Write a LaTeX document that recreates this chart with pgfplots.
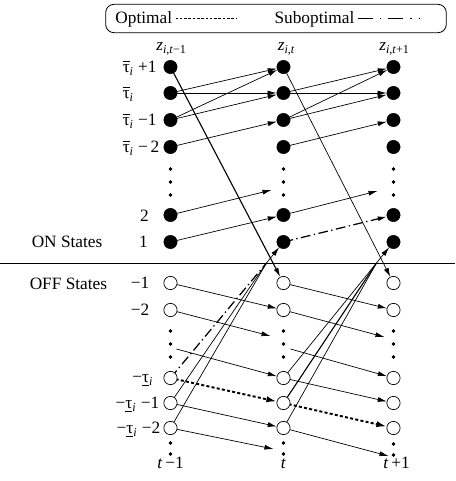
\documentclass[border=0pt]{standalone}
\usepackage{pgfplots}
\pgfplotsset{compat=1.18}
\usetikzlibrary{arrows.meta}
\usepackage{fontspec}
\setmainfont{Liberation Serif}
\newsavebox\taubox
\newcommand\sub{\textsubscript{\itshape i}}
\newcommand\tbar{\sbox\taubox{τ}\rlap{\rule[8.4pt]{\wd\taubox}{0.6pt}}\usebox\taubox\sub}
\newcommand\tund{\sbox\taubox{τ}\rlap{\rule[-2.4pt]{\wd\taubox}{0.6pt}}\usebox\taubox\sub}
\newcommand\arw[3][]{\addplot[arr,shorten >=5pt,forget plot,#1] coordinates {#2 #3};}
\newcommand\seg[3][]{\addplot[line width=0.5pt,black,forget plot,#1] coordinates {#2 #3};}
\pgfplotsset{
  optimg/.style={legend image code/.code={\draw[##1, arrows=-, shorten >=0pt, shorten <=0pt, line width=1.1pt, dash pattern=on 1.8pt off 1.3pt] (4pt,0pt) -- (48pt,0pt);}},
  subimg/.style={legend image code/.code={\draw[##1, arrows=-, dash pattern=on 11pt off 5pt on 1pt off 5pt] (7pt,0pt) -- (52pt,0pt); \path[arrows=-, draw=none] (52pt,0pt) -- (66pt,0pt);}},
}
\begin{document}
\fontsize{12.5}{15}\selectfont
\begin{tikzpicture}[
  arr/.style={-{Latex[length=6.5pt,width=3.6pt]}, line width=0.5pt, black},
  opt/.style={black, line width=1.4pt, dash pattern=on 2.2pt off 1.6pt, -{Latex[length=7.5pt,width=4.5pt]}, shorten >=5pt},
  sub/.style={black, line width=0.9pt, dash pattern=on 7pt off 2.5pt on 1pt off 2.5pt},
  lab/.style={inner sep=0pt}
]
\begin{axis}[
  width=4.55in, height=4.81in, scale only axis,
  xmin=0, xmax=455, ymin=0, ymax=481, y dir=reverse,
  axis lines=none, clip=false,
  legend plot pos=right, legend columns=2,
  legend style={at={(axis cs:275.5,18.5)}, anchor=center, draw=black, line width=0.6pt,
    rounded corners=6pt, inner xsep=5pt, inner ysep=3pt,
    font=\fontsize{12.5}{15}\selectfont,
    /tikz/every even column/.append style={column sep=25pt}},
]
% legend-bearing paths
\addplot[opt, optimg] coordinates {(170,378) (283,403)};
\addlegendentry{Optimal}
\addplot[sub, subimg] coordinates {(170,378) (266,263)};
\addlegendentry{Suboptimal}
\addplot[opt, forget plot] coordinates {(283,403) (393,428)};
\addplot[sub, -{Latex[length=6.5pt,width=3.6pt]}, shorten >=5pt, forget plot] coordinates {(283,242) (393,215)};

% separator line
\addplot[black, line width=0.7pt, forget plot] coordinates {(0,263) (455,263)};

% ON transitions t-1 -> t
\arw{(170,93)}{(283,67)}
\arw{(170,93)}{(283,93)}
\arw{(170,120)}{(283,67)}
\arw{(170,120)}{(283,93)}
\arw{(170,147)}{(283,120)}
\arw[shorten >=0pt]{(170,215)}{(271,190)}
\arw{(170,242)}{(283,215)}
\arw[line width=0.8pt]{(170,67)}{(283,283)}
% ON transitions t -> t+1
\arw{(283,93)}{(393,67)}
\arw{(283,93)}{(393,93)}
\arw{(283,120)}{(393,67)}
\arw{(283,120)}{(393,93)}
\arw{(283,147)}{(393,120)}
\arw[shorten >=0pt]{(283,215)}{(377,191)}
\arw{(283,67)}{(393,283)}

% OFF transitions t-1 -> t
\arw{(170,283)}{(283,310)}
\arw[shorten >=0pt]{(170,310)}{(270,336)}
\arw{(176,349)}{(283,378)}
\arw{(170,403)}{(283,428)}
\arw[shorten >=0pt]{(170,428)}{(273,449)}
% OFF transitions t -> t+1
\arw{(283,283)}{(393,310)}
\arw[shorten >=0pt]{(283,310)}{(384,337)}
\arw{(290,349)}{(393,378)}
\arw{(283,378)}{(393,403)}
\arw[shorten >=0pt]{(283,428)}{(388,456)}

% OFF -> ON (start-up)
\seg{(170,403)}{(266,263)}
\seg{(170,428)}{(266,263)}
\arw{(266,263)}{(283,242)}
\seg{(283,378)}{(376,263)}
\seg[line width=0.8pt]{(283,403)}{(376,263)}
\seg{(283,428)}{(376,263)}
\arw{(376,263)}{(393,242)}

% ON nodes
\addplot[only marks, mark=*, mark size=4.8pt, black, forget plot] coordinates {
 (170,67) (170,93) (170,120) (170,147) (170,215) (170,242)
 (283,67) (283,93) (283,120) (283,147) (283,215) (283,242)
 (393,67) (393,93) (393,120) (393,147) (393,215) (393,242)};
% OFF nodes
\addplot[only marks, mark=*, mark size=4.8pt, mark options={fill=white, draw=black, line width=0.5pt}, forget plot] coordinates {
 (170,283) (170,310) (170,378) (170,403) (170,428)
 (283,283) (283,310) (283,378) (283,403) (283,428)
 (393,283) (393,310) (393,378) (393,403) (393,428)};
% ellipsis dots
\addplot[only marks, mark=*, mark size=1.1pt, black, forget plot] coordinates {
 (170,169) (170,182) (170,195) (283,169) (283,182) (283,195) (393,169) (393,182) (393,195)
 (170,331) (170,344) (170,357) (283,331) (283,344) (283,357) (393,331) (393,344) (393,357)
 (170,443) (170,454) (283,443) (283,454) (393,444) (393,455)};

% column headers
\node[lab, anchor=base] at (axis cs:171,51) {\textit{z}\textsubscript{\textit{i},\textit{t}−1}};
\node[lab, anchor=base] at (axis cs:286,51) {\textit{z}\textsubscript{\textit{i},\textit{t}}};
\node[lab, anchor=base] at (axis cs:394,51) {\textit{z}\textsubscript{\textit{i},\textit{t}+1}};
% bottom labels
\node[lab, anchor=base] at (axis cs:170,468) {\textit{t}\,−1};
\node[lab, anchor=base] at (axis cs:283,468) {\textit{t}};
\node[lab, anchor=base] at (axis cs:396,468) {\textit{t}\,+1};
% row labels ON
\node[lab, anchor=mid west] at (axis cs:122,69) {\tbar\ +1};
\node[lab, anchor=mid west] at (axis cs:122,95) {\tbar};
\node[lab, anchor=mid west] at (axis cs:122,122) {\tbar\ −1};
\node[lab, anchor=mid west] at (axis cs:122,149) {\tbar\ −\,2};
\node[lab, anchor=mid] at (axis cs:144,218) {2};
\node[lab, anchor=mid] at (axis cs:143,244) {1};
\node[lab, anchor=mid west] at (axis cs:31,244) {ON States};
% row labels OFF
\node[lab, anchor=mid west] at (axis cs:29,286) {OFF States};
\node[lab, anchor=mid east] at (axis cs:149,285) {−1};
\node[lab, anchor=mid east] at (axis cs:149,312) {−2};
\node[lab, anchor=mid east] at (axis cs:153,379) {−\tund};
\node[lab, anchor=mid east] at (axis cs:159,405) {−\tund\ −1};
\node[lab, anchor=mid east] at (axis cs:160,430) {−\tund\ −2};
\end{axis}
\path (current axis.south west) rectangle (current axis.north east);
\end{tikzpicture}
\end{document}
